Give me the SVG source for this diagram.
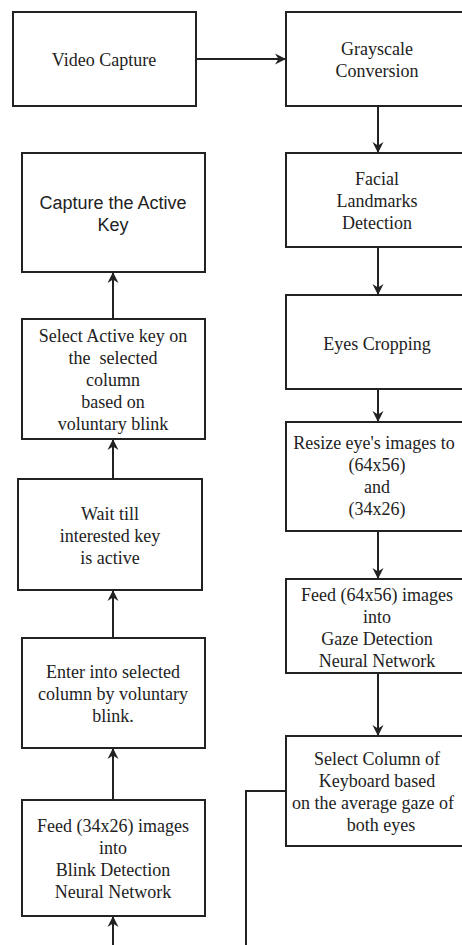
<svg xmlns="http://www.w3.org/2000/svg" width="462" height="945" viewBox="0 0 462 945">
<style>
.box{fill:#fff;stroke:#222;stroke-width:2}
.t{font-family:"Liberation Serif","Times New Roman",serif;font-size:18px;fill:#222;text-anchor:middle;white-space:pre}
.s{font-family:"Liberation Sans",Arial,sans-serif;font-size:18px;fill:#222;text-anchor:middle}
.c{fill:none;stroke:#222;stroke-width:2}
</style>
<defs>
<marker id="ah" markerUnits="userSpaceOnUse" markerWidth="12" markerHeight="12" refX="11" refY="6" orient="auto">
<path d="M0,0.5 L11,6 L0,11.5 L3.5,6 z" fill="#222"/>
</marker>
</defs>
<rect width="462" height="945" fill="#fff"/>
<g id="connectors">
<line class="c" x1="196" y1="59" x2="286" y2="59" marker-end="url(#ah)"/>
<line class="c" x1="378" y1="106" x2="378" y2="153" marker-end="url(#ah)"/>
<line class="c" x1="378" y1="247" x2="378" y2="295" marker-end="url(#ah)"/>
<line class="c" x1="378" y1="389" x2="378" y2="422" marker-end="url(#ah)"/>
<line class="c" x1="378" y1="531" x2="378" y2="579" marker-end="url(#ah)"/>
<line class="c" x1="378" y1="673" x2="378" y2="736" marker-end="url(#ah)"/>
<polyline class="c" points="286,791 246,791 246,946"/>
<line class="c" x1="113" y1="946" x2="113" y2="916" marker-end="url(#ah)"/>
<line class="c" x1="113" y1="800" x2="113" y2="748" marker-end="url(#ah)"/>
<line class="c" x1="113" y1="638" x2="113" y2="590" marker-end="url(#ah)"/>
<line class="c" x1="113" y1="479" x2="113" y2="439" marker-end="url(#ah)"/>
<line class="c" x1="113" y1="319" x2="113" y2="272" marker-end="url(#ah)"/>
</g>
<g id="video-capture">
<rect class="box" x="13" y="12" width="183" height="94"/>
<text class="t" x="104" y="66">Video Capture</text>
</g>
<g id="grayscale">
<rect class="box" x="286" y="12" width="184" height="94"/>
<text class="t" x="377" y="55">Grayscale</text>
<text class="t" x="377" y="77">Conversion</text>
</g>
<g id="facial">
<rect class="box" x="286" y="153" width="184" height="94"/>
<text class="t" x="377" y="185">Facial</text>
<text class="t" x="377" y="207">Landmarks</text>
<text class="t" x="377" y="229">Detection</text>
</g>
<g id="eyes-cropping">
<rect class="box" x="286" y="295" width="184" height="94"/>
<text class="t" x="377" y="350">Eyes Cropping</text>
</g>
<g id="resize">
<rect class="box" x="286" y="422" width="184" height="109"/>
<text class="t" x="374" y="449">Resize eye's images to</text>
<text class="t" x="377" y="471">(64x56)</text>
<text class="t" x="377" y="493">and</text>
<text class="t" x="377" y="515">(34x26)</text>
</g>
<g id="feed-gaze">
<rect class="box" x="286" y="579" width="184" height="94"/>
<text class="t" x="377" y="601">Feed (64x56) images</text>
<text class="t" x="377" y="623">into</text>
<text class="t" x="377" y="645">Gaze Detection</text>
<text class="t" x="377" y="667">Neural Network</text>
</g>
<g id="select-column">
<rect class="box" x="286" y="736" width="184" height="110"/>
<text class="t" x="377" y="765">Select Column of</text>
<text class="t" x="377" y="787">Keyboard based</text>
<text class="t" x="373" y="809">on the average gaze of</text>
<text class="t" x="381" y="831">both eyes</text>
</g>
<g id="capture-key">
<rect class="box" x="22" y="153" width="183" height="119"/>
<text class="s" x="113" y="209">Capture the Active</text>
<text class="s" x="113" y="231">Key</text>
</g>
<g id="select-active">
<rect class="box" x="22" y="319" width="183" height="120"/>
<text class="t" x="113" y="342">Select Active key on</text>
<text class="t" x="113" y="364">the  selected</text>
<text class="t" x="113" y="386">column</text>
<text class="t" x="113" y="408">based on</text>
<text class="t" x="113" y="430">voluntary blink</text>
</g>
<g id="wait">
<rect class="box" x="18" y="479" width="184" height="111"/>
<text class="t" x="110" y="520">Wait till</text>
<text class="t" x="110" y="542">interested key</text>
<text class="t" x="110" y="564">is active</text>
</g>
<g id="enter-column">
<rect class="box" x="22" y="638" width="183" height="110"/>
<text class="t" x="113" y="678">Enter into selected</text>
<text class="t" x="113" y="700">column by voluntary</text>
<text class="t" x="113" y="722">blink.</text>
</g>
<g id="feed-blink">
<rect class="box" x="22" y="800" width="183" height="116"/>
<text class="t" x="113" y="832">Feed (34x26) images</text>
<text class="t" x="113" y="854">into</text>
<text class="t" x="113" y="876">Blink Detection</text>
<text class="t" x="113" y="898">Neural Network</text>
</g>
</svg>
